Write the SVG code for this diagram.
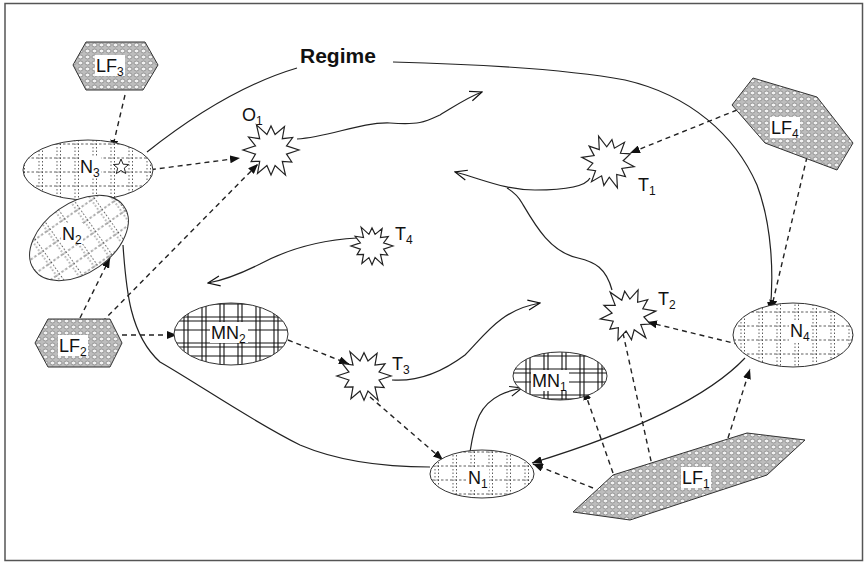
<svg xmlns="http://www.w3.org/2000/svg" xmlns:xlink="http://www.w3.org/1999/xlink" width="865" height="562" viewBox="0 0 865 562">
<style>
.lb{font-family:"Liberation Sans",Arial,sans-serif;font-size:18px;fill:#111}
.sub{font-size:12px}
.rg{font-family:"Liberation Sans",Arial,sans-serif;font-size:21px;font-weight:bold;fill:#111}
.edge{fill:none;stroke:#222;stroke-width:1.2}
.dash{fill:none;stroke:#222;stroke-width:1.4;stroke-dasharray:5,4}
.nd{stroke:#333;stroke-width:1}
.bg{fill:#fff}
.star{fill:#fff;stroke:#222;stroke-width:1.2}
</style>
<defs>
<pattern id="pN" width="18" height="14" patternUnits="userSpaceOnUse">
<rect width="18" height="14" fill="#fff"/>
<path d="M3,0V14M6.5,0V14" stroke="#333" stroke-width="0.8" stroke-dasharray="1.5,2"/>
<path d="M0,4H18" stroke="#333" stroke-width="0.8" stroke-dasharray="2.5,2"/>
</pattern>
<pattern id="pMN" width="36" height="26" patternUnits="userSpaceOnUse">
<rect width="36" height="26" fill="#fff"/>
<path d="M4,0V26M8,0V26M22,0V26M26,0V26M0,5H36M0,9H36M0,18H36" stroke="#111" stroke-width="1.1"/>
</pattern>
<pattern id="pLF" width="7" height="6" patternUnits="userSpaceOnUse">
<rect width="7" height="6" fill="#bdbdbd"/>
<ellipse cx="3.5" cy="3" rx="2.5" ry="1.9" fill="#f2f2f2" stroke="#666" stroke-width="0.6"/>
</pattern>
<polygon id="burst" points="28,0 15.5,4.1 20.8,12 11.3,11.3 14.5,25.1 4.1,15.5 0,25 -4.1,15.5 -13.5,23.4 -11.3,11.3 -19.9,11.5 -15.5,4.1 -28,0 -15.5,-4.1 -22.5,-13 -11.3,-11.3 -14.5,-25.1 -4.1,-15.5 0,-24 4.1,-15.5 13.5,-23.4 11.3,-11.3 21.7,-12.5 15.5,-4.1" vector-effect="non-scaling-stroke"/>
<marker id="fa" viewBox="0 0 10 8" refX="10" refY="4" markerWidth="10" markerHeight="8" markerUnits="userSpaceOnUse" orient="auto-start-reverse">
<path d="M0,0L10,4L0,8z" fill="#111"/>
</marker>
<marker id="oa" viewBox="0 0 14 12" refX="13" refY="6" markerWidth="14" markerHeight="12" markerUnits="userSpaceOnUse" orient="auto">
<path d="M1,1L13,6L1,11" fill="none" stroke="#111" stroke-width="1.2"/>
</marker>
</defs>
<rect x="5" y="3.5" width="857.5" height="557" fill="#fff" stroke="#555" stroke-width="1.5"/>

<g id="connectors">
<path class="edge" d="M147,152 C200,110 250,82 297,68"/>
<path class="edge" d="M393,62 C470,64 560,68 625,80 C690,95 735,135 757,185 C772,225 774,275 770,312" marker-end="url(#fa)"/>
<path class="edge" d="M123,245 C126,290 130,335 160,362 C200,385 250,420 300,445 C340,462 390,467 430,467"/>
<path class="edge" d="M745,358 C710,395 640,430 532,463" marker-end="url(#fa)"/>
<path class="edge" d="M470,452 C475,420 480,405 500,395 C510,390 515,390 522,388" marker-end="url(#oa)"/>
<path class="edge" d="M297,139 C330,137 360,122 390,123 C420,125 425,122 440,115 C455,106 468,97 482,92" marker-end="url(#oa)"/>
<path class="edge" d="M590,178 C585,188 560,190 535,190 C505,190 485,180 455,172" marker-end="url(#oa)"/>
<path class="edge" d="M612,290 C606,268 595,262 578,258 C550,252 535,225 522,203 C518,196 512,191 507,188"/>
<path class="edge" d="M357,238 C320,240 290,248 260,264 C240,274 225,280 208,283" marker-end="url(#oa)"/>
<path class="edge" d="M392,380 C420,382 445,370 465,355 C485,335 500,310 540,303" marker-end="url(#oa)"/>
<path class="dash" d="M125,95 L112,150" marker-end="url(#fa)"/>
<path class="dash" d="M133,172 L240,158" marker-start="url(#fa)" marker-end="url(#fa)"/>
<path class="dash" d="M102,322 L258,164" marker-end="url(#fa)"/>
<path class="dash" d="M80,318 L110,258" marker-end="url(#fa)"/>
<path class="dash" d="M122,335 L177,335" marker-end="url(#fa)"/>
<path class="dash" d="M288,340 L349,364" marker-end="url(#fa)"/>
<path class="dash" d="M370,397 L443,460" marker-end="url(#fa)"/>
<path class="dash" d="M737,110 L630,153" marker-end="url(#fa)"/>
<path class="dash" d="M807,157 L771,310" marker-end="url(#fa)"/>
<path class="dash" d="M647,322 L762,350" marker-start="url(#fa)" marker-end="url(#fa)"/>
<path class="dash" d="M613,473 L584,390" marker-end="url(#fa)"/>
<path class="dash" d="M653,470 L621,324" marker-end="url(#fa)"/>
<path class="dash" d="M593,488 L533,464" marker-end="url(#fa)"/>
<path class="dash" d="M728,438 L750,369" marker-end="url(#fa)"/>
</g>

<g id="LF3">
<polygon class="nd" fill="url(#pLF)" points="73,65 86,42 145,42 158,65 143,90 86,90"/>
<rect class="bg" x="95" y="55" width="30" height="21"/>
<text class="lb" x="96" y="72">LF<tspan class="sub" dy="4">3</tspan></text>
</g>
<g id="N3">
<ellipse class="nd" fill="url(#pN)" cx="88" cy="170" rx="65" ry="30"/>
<rect class="bg" x="79" y="156" width="22" height="21"/>
<text class="lb" x="80" y="173">N<tspan class="sub" dy="4">3</tspan></text>
<polygon fill="#fff" stroke="#222" stroke-width="1" points="121,159 123.1,164.2 128.6,164.5 124.3,168.1 125.7,173.5 121,170.5 116.3,173.5 117.7,168.1 113.4,164.5 118.9,164.2"/>
</g>
<g id="N2">
<ellipse class="nd" fill="url(#pN)" cx="79" cy="238" rx="55" ry="35" transform="rotate(-35 79 238)"/>
<rect class="bg" x="61" y="223" width="22" height="21"/>
<text class="lb" x="62" y="240">N<tspan class="sub" dy="4">2</tspan></text>
</g>
<g id="LF2">
<polygon class="nd" fill="url(#pLF)" points="35,343 48,319 110,319 122,343 110,367 48,367"/>
<rect class="bg" x="58" y="335" width="30" height="21"/>
<text class="lb" x="59" y="352">LF<tspan class="sub" dy="4">2</tspan></text>
</g>
<g id="MN2">
<ellipse class="nd" fill="url(#pMN)" cx="231" cy="334" rx="57" ry="31"/>
<rect class="bg" x="210" y="322" width="38" height="21"/>
<text class="lb" x="211" y="339">MN<tspan class="sub" dy="4">2</tspan></text>
</g>
<g id="O1">
<use xlink:href="#burst" class="star" transform="translate(271 150)"/>
<text class="lb" x="242" y="121">O<tspan class="sub" dy="4">1</tspan></text>
</g>
<g id="Regime">
<text class="rg" x="300" y="63">Regime</text>
</g>
<g id="T4">
<use xlink:href="#burst" class="star" transform="translate(372 246) scale(0.75)"/>
<text class="lb" x="395" y="240">T<tspan class="sub" dy="4">4</tspan></text>
</g>
<g id="T3">
<use xlink:href="#burst" class="star" transform="translate(364 376) scale(0.97)"/>
<text class="lb" x="392" y="370">T<tspan class="sub" dy="4">3</tspan></text>
</g>
<g id="T1">
<use xlink:href="#burst" class="star" transform="translate(608 162) scale(0.95) rotate(10)"/>
<text class="lb" x="638" y="191">T<tspan class="sub" dy="4">1</tspan></text>
</g>
<g id="T2">
<use xlink:href="#burst" class="star" transform="translate(628 315) rotate(-8)"/>
<text class="lb" x="658" y="305">T<tspan class="sub" dy="4">2</tspan></text>
</g>
<g id="LF4">
<polygon class="nd" fill="url(#pLF)" points="732,105 753,78 817,97 853,143 837,170 765,143"/>
<rect class="bg" x="770" y="117" width="30" height="21"/>
<text class="lb" x="771" y="134">LF<tspan class="sub" dy="4">4</tspan></text>
</g>
<g id="N4">
<ellipse class="nd" fill="url(#pN)" cx="793" cy="335" rx="60" ry="32"/>
<rect class="bg" x="789" y="320" width="22" height="21"/>
<text class="lb" x="790" y="337">N<tspan class="sub" dy="4">4</tspan></text>
</g>
<g id="MN1">
<ellipse class="nd" fill="url(#pMN)" cx="560" cy="376" rx="47" ry="24"/>
<rect class="bg" x="531" y="370" width="38" height="21"/>
<text class="lb" x="532" y="387">MN<tspan class="sub" dy="4">1</tspan></text>
</g>
<g id="N1">
<ellipse class="nd" fill="url(#pN)" cx="482" cy="474" rx="52" ry="24"/>
<rect class="bg" x="467" y="467" width="22" height="21"/>
<text class="lb" x="468" y="484">N<tspan class="sub" dy="4">1</tspan></text>
</g>
<g id="LF1">
<polygon class="nd" fill="url(#pLF)" points="573,512 613,475 747,433 805,440 767,475 630,520"/>
<rect class="bg" x="681" y="467" width="30" height="21"/>
<text class="lb" x="682" y="484">LF<tspan class="sub" dy="4">1</tspan></text>
</g>
</svg>
